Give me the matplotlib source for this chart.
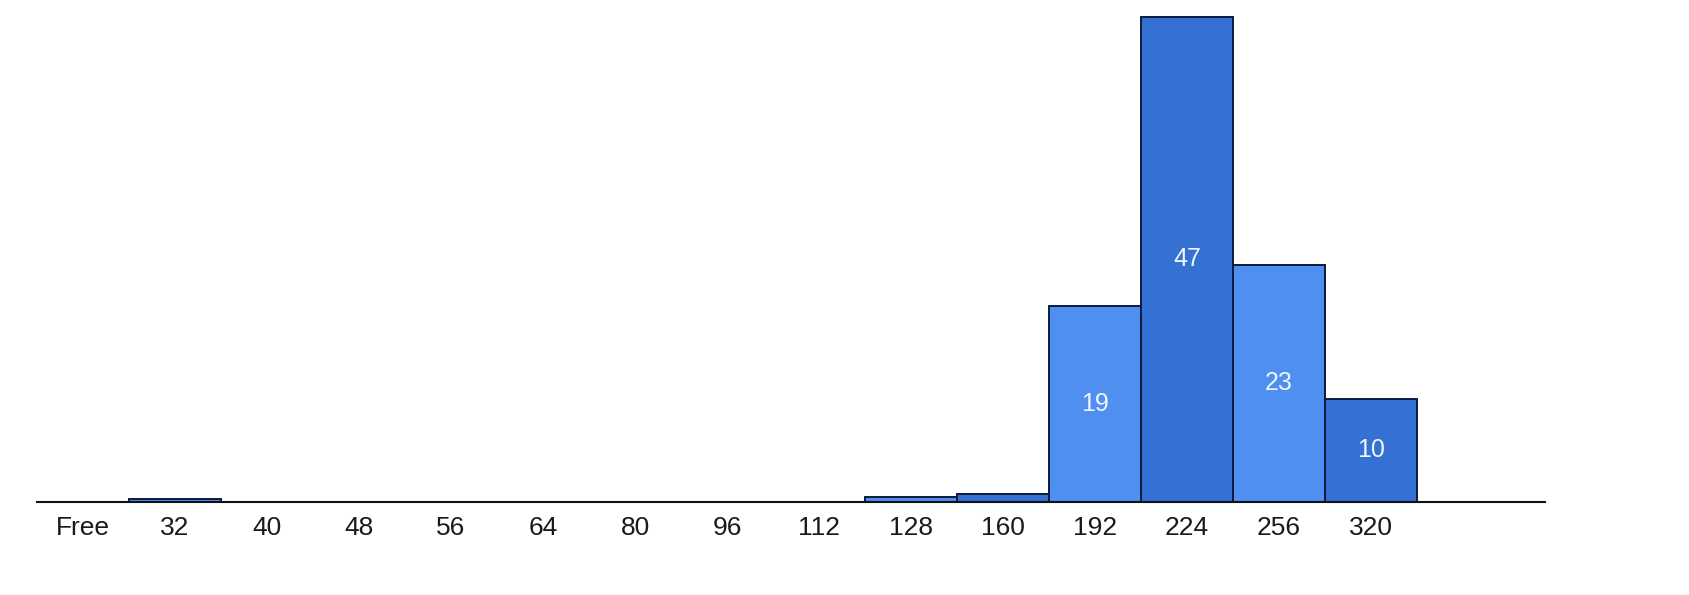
import matplotlib
matplotlib.use("Agg")
import matplotlib.pyplot as plt

categories = ["Free", "32", "40", "48", "56", "64", "80", "96", "112",
              "128", "160", "192", "224", "256", "320"]
values = [0, 0.25, 0, 0, 0, 0, 0, 0, 0, 0.5, 0.8, 19, 47, 23, 10]

light = "#4f8ff0"
dark = "#3471d2"

plt.rcParams['font.family'] = ['Liberation Sans Narrow', 'Liberation Sans', 'DejaVu Sans']

fig = plt.figure(figsize=(16.9, 5.95), dpi=100)
ax = fig.add_axes([37 / 1690, 1 - 502 / 595, (1545 - 37) / 1690, 502 / 595])

x = list(range(len(categories)))
colors = [light if i % 2 == 1 else dark for i in x]
bars = ax.bar(x, values, width=1.0, color=colors, edgecolor="#0b1a3f", linewidth=1.4)

for b, v in zip(bars, values):
    if v >= 1:
        ax.text(b.get_x() + b.get_width() / 2, v / 2, str(v), ha="center", va="center",
                color="#f0f4ff", fontsize=18)

ax.set_xlim(-0.5, 15.89)
ax.set_ylim(0, 47 * 502 / 485)
ax.set_xticks(x)
ax.set_xticklabels(categories, fontsize=19, color="#1a1a1a")
ax.tick_params(axis="x", length=0, pad=10)
ax.set_yticks([])
for s in ["top", "left", "right"]:
    ax.spines[s].set_visible(False)
ax.spines["bottom"].set_linewidth(1.5)
ax.spines["bottom"].set_color("#111111")

fig.savefig("out.png", dpi=100)
